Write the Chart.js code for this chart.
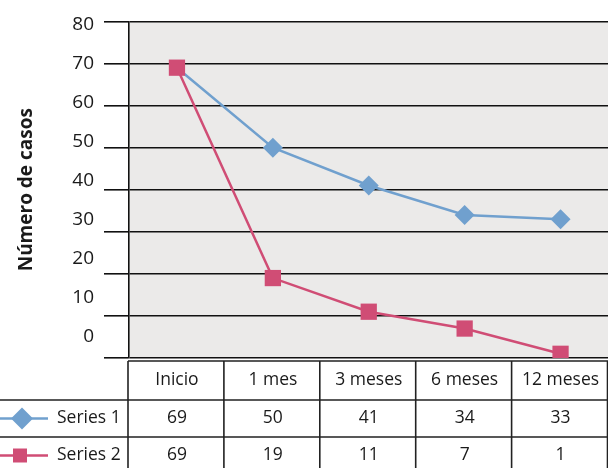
<!DOCTYPE html>
<html>
<head>
<meta charset="utf-8">
<script src="https://cdn.jsdelivr.net/npm/chart.js@4"></script>
<style>
  html, body { margin: 0; padding: 0; background: #ffffff; overflow: hidden; }
  canvas { display: block; }
</style>
</head>
<body>
<canvas id="casesChart" width="620" height="468"></canvas>
<script>
const categories = ['Inicio', '1 mes', '3 meses', '6 meses', '12 meses'];
const seriesNames = ['Series 1', 'Series 2'];
const series1 = [69, 50, 41, 34, 33];
const series2 = [69, 19, 11, 7, 1];
const yTickValues = [0, 10, 20, 30, 40, 50, 60, 70, 80];

const blue = '#70A0CE';
const pink = '#D04D75';
const ink = '#1a1a1a';
const fontFamily = '"Open Sans", "Noto Sans", sans-serif';

// plot background + data table under the chart
const tablePlugin = {
    id: 'dataTable',
    beforeDraw(chart) {
        const { ctx, chartArea } = chart;
        ctx.save();
        ctx.fillStyle = '#EBEAE9';
        ctx.fillRect(chartArea.left, chartArea.top, chartArea.right - chartArea.left, chartArea.bottom - chartArea.top);
        ctx.restore();
    },
    afterDraw(chart) {
        const { ctx } = chart;
        const x = chart.scales.x;
        const colW = (x.right - x.left) / categories.length;
        const rows = [361, 400, 437, 474];
        const allSeries = [series1, series2];
        const colors = [blue, pink];

        ctx.save();
        ctx.strokeStyle = '#222222';
        ctx.lineWidth = 1.6;

        // horizontal lines
        ctx.beginPath();
        ctx.moveTo(x.left - 1, rows[0]);
        ctx.lineTo(chart.width, rows[0]);
        for (let r = 1; r < rows.length; r++) {
            ctx.moveTo(0, rows[r]);
            ctx.lineTo(chart.width, rows[r]);
        }
        // vertical lines
        for (let c = 0; c <= categories.length; c++) {
            const cx = x.left - 1 + c * colW;
            ctx.moveTo(cx, rows[0]);
            ctx.lineTo(cx, chart.height);
        }
        ctx.stroke();

        ctx.fillStyle = ink;
        ctx.font = '17.5px ' + fontFamily;
        ctx.textBaseline = 'middle';
        ctx.textAlign = 'center';
        categories.forEach((cat, i) => {
            ctx.fillText(cat, x.getPixelForTick(i), (rows[0] + rows[1]) / 2);
        });
        allSeries.forEach((data, s) => {
            const cy = (rows[s + 1] + rows[s + 2]) / 2;
            data.forEach((v, i) => {
                ctx.fillText(String(v), x.getPixelForTick(i), cy);
            });
        });

        // legend keys
        allSeries.forEach((data, s) => {
            const cy = (rows[s + 1] + rows[s + 2]) / 2;
            ctx.strokeStyle = colors[s];
            ctx.lineWidth = 2.5;
            ctx.beginPath();
            ctx.moveTo(0, cy);
            ctx.lineTo(48, cy);
            ctx.stroke();
            ctx.fillStyle = colors[s];
            ctx.beginPath();
            if (s === 0) {
                ctx.moveTo(22, cy - 11);
                ctx.lineTo(33, cy);
                ctx.lineTo(22, cy + 11);
                ctx.lineTo(11, cy);
                ctx.closePath();
            } else {
                ctx.rect(13, cy - 7, 14, 14);
            }
            ctx.fill();
            ctx.fillStyle = ink;
            ctx.textAlign = 'left';
            ctx.fillText(seriesNames[s], 57, cy);
        });
        ctx.restore();
    }
};

const ctx = document.getElementById('casesChart').getContext('2d');
const casesChart = new Chart(ctx, {
    type: 'line',
    data: {
        labels: categories,
        datasets: [
            {
                label: seriesNames[0],
                data: series1,
                borderColor: blue,
                backgroundColor: blue,
                borderWidth: 2.5,
                pointStyle: 'rectRot',
                // first diamond sits fully under the Series 2 square in the original
                pointRadius: c => (c.dataIndex === 0 ? 0 : 10),
                pointBorderWidth: 0,
                tension: 0,
                order: 1,
                clip: { left: false, right: false, top: false, bottom: 0 }
            },
            {
                label: seriesNames[1],
                data: series2,
                borderColor: pink,
                backgroundColor: pink,
                borderWidth: 2.5,
                pointStyle: 'rect',
                pointRadius: 11.5,
                pointBorderWidth: 0,
                tension: 0,
                order: 0,
                clip: { left: false, right: false, top: false, bottom: 0 }
            }
        ]
    },
    options: {
        responsive: false,
        animation: false,
        layout: {
            padding: { top: 21, bottom: 110, left: 0, right: 0 }
        },
        plugins: {
            legend: { display: false },
            tooltip: { enabled: false }
        },
        scales: {
            x: {
                display: false,
                offset: true
            },
            y: {
                position: 'left',
                weight: 0,
                min: 0,
                max: 80,
                ticks: { stepSize: 10, display: false, padding: 0 },
                grid: {
                    color: '#111111',
                    lineWidth: 1.6,
                    drawTicks: true,
                    tickLength: 25
                },
                border: { display: true, color: '#111111', width: 1.6 },
                afterFit(scale) { scale.width = 25; }
            },
            yl: {
                type: 'linear',
                position: 'left',
                weight: 1,
                min: -5.37,
                max: 80.76,
                afterBuildTicks(scale) {
                    scale.ticks = yTickValues.map(v => ({ value: v }));
                },
                ticks: {
                    color: ink,
                    padding: 10,
                    font: { family: fontFamily, size: 19 }
                },
                grid: { display: false, drawTicks: false },
                border: { display: false },
                title: {
                    display: true,
                    text: 'Número de casos',
                    color: ink,
                    font: { family: fontFamily, size: 19, weight: 'bold' },
                    padding: { top: 15, bottom: 0 }
                },
                afterFit(scale) { scale.width = 104; }
            }
        }
    },
    plugins: [tablePlugin]
});
</script>
</body>
</html>
